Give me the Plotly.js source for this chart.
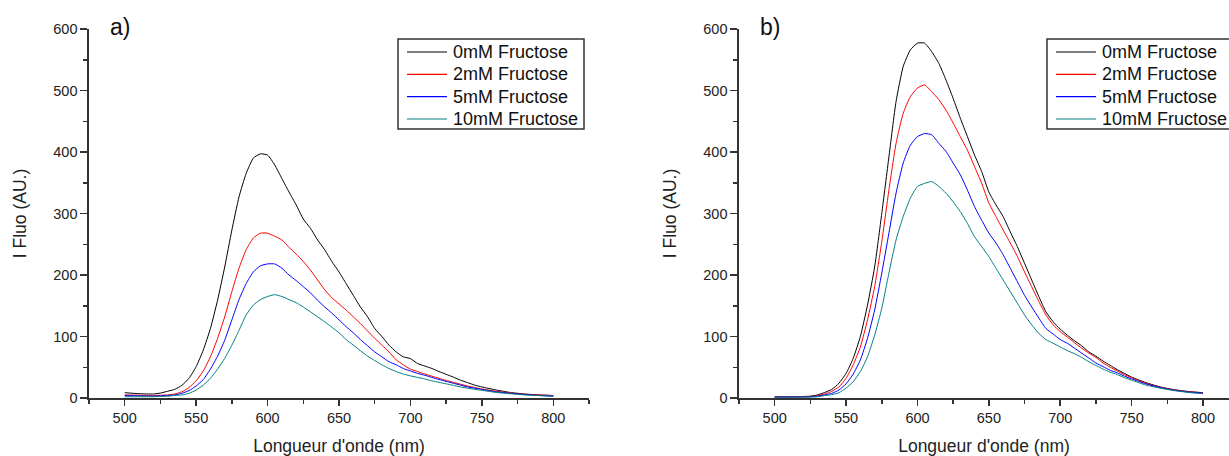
<!DOCTYPE html>
<html><head><meta charset="utf-8">
<script src="https://cdn.plot.ly/plotly-3.0.1.min.js"></script>
<style>html,body{margin:0;padding:0;background:#fff;} #chart{width:1229px;height:456px;}</style>
</head><body><div id="chart"></div>
<script>
// Wavelength (nm)
const wl = [500,510,520,525,530,535,540,545,550,555,560,565,570,575,580,585,590,595,600,605,610,615,620,625,630,635,640,645,650,655,660,665,670,675,680,685,690,695,700,705,710,715,720,725,730,735,740,745,750,760,770,780,790,800];

const seriesNames = ['0mM Fructose','2mM Fructose','5mM Fructose','10mM Fructose'];
const seriesColors = ['#000000','#ff0000','#0000ff','#008080'];

// Panel a)
const a0mM  = [8.6,7,6.5,8,11,14,20.6,32,51,78,113,159,213,273,327,365,390,397,395,379,357,335,314,291,276,257,241,222,205,186,167,148,132,113,100,86,75,67,64,56,52,48,43,38.5,34,29,25,21,18,13,9,6.5,5,4];
const a2mM  = [5,4.5,4,4.5,5,6.5,10,17,28,44,67,97,132,173,211,241,260,268,268,263,257,245,234,222,208,192,176,163,153,143,132,121,109,97,86,75,62,54,47,43,39,35.5,32,28.5,25.5,22.5,19.5,17,14.6,11,8,6,5,4];
const a5mM  = [4,3.5,3,3.5,4,5,7.6,12,19.5,30,47,68,94,127,160,186,205,215,218,218,211,200,191,181,171,159,148,138,127,116,106,95,85,75,67,59,54,48,44,40,37,33.5,30,27,24,21,18,16,14,10,7.6,5.5,4,3];
const a10mM = [2,2,2,2.5,3,4,5,7.6,13,21,32,47,64.5,86,110,135,151,160,165,168,165,160,155,148,140,132,124,115,106,95,86,77,68,61,54,48,43,39,36,33.5,31,28,25.5,23,20.6,18,16,14,12.5,9,7,5,4,3];

// Panel b)
const b0mM  = [2,2,2.5,3,5,9,14,24,40,64.5,100,151,213,300,392,482,539,566,577,577,563,544,517,487,455,425,395,368,335,314,295,270,246,219,192,165,140,124,112,102,93,85,75,68,60,53,46,40,34,25,18,13.5,10.5,8.6];
const b2mM  = [2,2,2,2.5,4,6.5,11,18,32,54,83,127,181,254,338,414,463,490,504,509,498,485,468,447,425,403,376,349,317,295,273,252,230,205,181,157,135,119,108,99,90,81,73,66,57,50,44,38,33,24,17.5,13,10,8.6];
const b5mM  = [1.5,1.5,1.5,2,3,5,7.6,13,23,39,62,97,143,203,268,333,382,411,425,430,428,414,401,382,363,338,311,289,268,252,233,211,189,167,148,130,113,104,95,89,81,73,65,57,51,45,41,35.5,31,23,17,12.5,9.5,8];
const b10mM = [1.5,1.5,1.5,1.5,2,4,5.4,8.6,16,26.5,43,67,102,146,203,257,295,325,344,349,352,344,333,319,303,284,262,246,230,211,192,173,154,135,119,105,95,89,83,77,72,66,59,53,47,42,38,33,29,21,16,12,9,7];

const panelA = [a0mM, a2mM, a5mM, a10mM];
const panelB = [b0mM, b2mM, b5mM, b10mM];

const W = 1229, H = 456;
const FONT = 'Liberation Sans, Arial, Helvetica, sans-serif';
const px = v => v / W;          // pixel -> paper x
const py = v => 1 - v / H;      // pixel -> paper y

const traces = [];
panelA.forEach((ys, i) => traces.push({
  x: wl, y: ys, type: 'scatter', mode: 'lines', name: seriesNames[i], showlegend: false,
  line: {color: seriesColors[i], width: 1, shape: 'spline', smoothing: 0.5}, xaxis: 'x', yaxis: 'y'
}));
panelB.forEach((ys, i) => traces.push({
  x: wl, y: ys, type: 'scatter', mode: 'lines', name: seriesNames[i], showlegend: false,
  line: {color: seriesColors[i], width: 1, shape: 'spline', smoothing: 0.5}, xaxis: 'x2', yaxis: 'y2'
}));

const tickStyle = {
  ticks: 'outside', ticklen: 6, tickwidth: 1.5, tickcolor: '#333',
  showline: true, linecolor: '#333', linewidth: 1.6,
  showgrid: false, zeroline: false, automargin: false,
  tickfont: {family: FONT, size: 14.5, color: '#222'}
};
function xAxis(domain, anchor, range) {
  return Object.assign({}, tickStyle, {
    domain: domain, anchor: anchor, range: range, tick0: 500, dtick: 50,
    minor: {ticks: 'outside', ticklen: 4, tickwidth: 1.5, tickcolor: '#333', dtick: 25, showgrid: false},
    title: {text: "Longueur d'onde (nm)", font: {family: FONT, size: 17.5, color: '#222'}, standoff: 17}
  });
}
function yAxis(anchor) {
  return Object.assign({}, tickStyle, {
    domain: [py(398), py(29)], anchor: anchor, range: [0, 600], tick0: 0, dtick: 100, ticklen: 7,
    minor: {ticks: 'outside', ticklen: 4, tickwidth: 1.5, tickcolor: '#333', dtick: 50, showgrid: false},
    title: {text: 'I Fluo (AU.)', font: {family: FONT, size: 17.5, color: '#222'}, standoff: 22}
  });
}

// Hand-placed legend boxes (one per panel)
const shapes = [];
const annotations = [];
function addLegend(boxLeft, boxRight, lineX0, lineX1, textX) {
  shapes.push({type: 'rect', xref: 'paper', yref: 'paper', x0: px(boxLeft), x1: px(boxRight), y0: py(129), y1: py(39),
               line: {color: '#333', width: 1.5}, fillcolor: '#ffffff', layer: 'above'});
  const rows = [52, 74.3, 96.7, 119];
  seriesNames.forEach((name, i) => {
    shapes.push({type: 'line', xref: 'paper', yref: 'paper', x0: px(lineX0), x1: px(lineX1), y0: py(rows[i]), y1: py(rows[i]),
                 line: {color: seriesColors[i], width: 1.2}, layer: 'above'});
    annotations.push({text: name, xref: 'paper', yref: 'paper', x: px(textX), y: py(rows[i]), xanchor: 'left', yanchor: 'middle',
                      showarrow: false, font: {family: FONT, size: 18, color: '#111'}});
  });
}
addLegend(398, 584, 407, 447, 451);
addLegend(1047, 1240, 1056, 1096, 1100);

annotations.push(
  {text: 'a)', xref: 'paper', yref: 'paper', x: px(120), y: py(27), xanchor: 'center', yanchor: 'middle', showarrow: false,
   font: {family: 'Liberation Sans Narrow, Arial Narrow, ' + FONT, size: 23, color: '#111'}},
  {text: 'b)', xref: 'paper', yref: 'paper', x: px(770), y: py(27), xanchor: 'center', yanchor: 'middle', showarrow: false,
   font: {family: 'Liberation Sans Narrow, Arial Narrow, ' + FONT, size: 23, color: '#111'}}
);

const layout = {
  width: W, height: H,
  margin: {l: 0, r: 0, t: 0, b: 0},
  paper_bgcolor: '#ffffff', plot_bgcolor: '#ffffff',
  showlegend: false,
  xaxis: xAxis([px(89), px(589)], 'y', [475, 825]),
  yaxis: yAxis('x'),
  xaxis2: xAxis([px(739), 1], 'y2', [475, 818.2]),
  yaxis2: yAxis('x2'),
  shapes: shapes,
  annotations: annotations
};

Plotly.newPlot('chart', traces, layout, {displayModeBar: false, staticPlot: true});
</script>
</body></html>
